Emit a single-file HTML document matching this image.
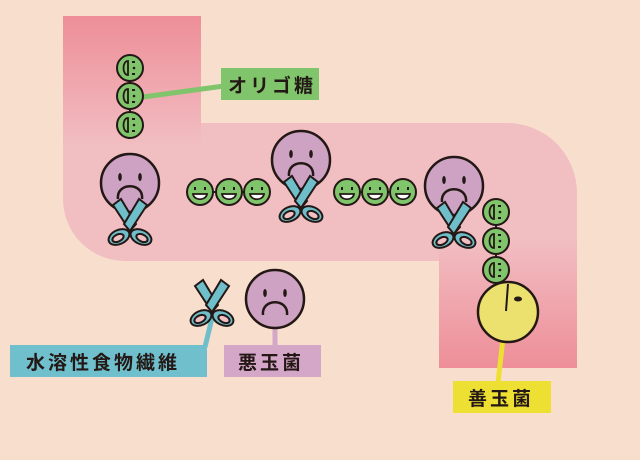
<!DOCTYPE html>
<html><head><meta charset="utf-8"><style>
html,body{margin:0;padding:0;background:#f8dfcd;}
svg{display:block}
text{font-family:"Liberation Sans","Noto Sans CJK JP",sans-serif;font-weight:bold;font-size:19px;fill:#231815;letter-spacing:3px}
</style></head><body>
<svg width="640" height="460" viewBox="0 0 640 460" xmlns="http://www.w3.org/2000/svg">
<defs>
<linearGradient id="gv" x1="0" y1="0" x2="0" y2="1">
<stop offset="0" stop-color="#ee8e98"/><stop offset="1" stop-color="#f1bec2"/>
</linearGradient>
<linearGradient id="gr" x1="0" y1="0" x2="0" y2="1">
<stop offset="0" stop-color="#f1bec2"/><stop offset="1" stop-color="#ee8e98"/>
</linearGradient>
<g id="bad">
<circle r="29" fill="#cea2c3" stroke="#231815" stroke-width="2.5"/>
<ellipse cx="-10" cy="-6" rx="1.8" ry="4" fill="#231815"/>
<ellipse cx="10" cy="-6" rx="1.8" ry="4" fill="#231815"/>
<path d="M-12 16 C-14 -1 14 -1 12 16" fill="none" stroke="#231815" stroke-width="2.5"/>
</g>
<g id="sc" stroke="#231815" stroke-width="2" fill="#6fbfcb">
<path d="M-17 -20 L-9 -26 L6 -1 L0 6 Z"/>
<path d="M17 -20 L9 -26 L-6 -1 L0 6 Z"/>
<ellipse cx="-11" cy="12" rx="11" ry="7" transform="rotate(-25 -11 12)"/>
<ellipse cx="11" cy="12" rx="11" ry="7" transform="rotate(25 11 12)"/>
<ellipse cx="-12" cy="13" rx="6" ry="3.5" fill="#f0c0c4" transform="rotate(-25 -12 13)"/>
<ellipse cx="12" cy="13" rx="6" ry="3.5" fill="#f0c0c4" transform="rotate(25 12 13)"/>
</g>
<g id="sm">
<circle r="13" fill="#80c46b" stroke="#231815" stroke-width="2"/>
<path d="M-5 -5 v3 M5 -5 v3" stroke="#231815" stroke-width="2"/>
<path d="M-7 2 H7 C6 9 -6 9 -7 2 Z" fill="#fff" stroke="#231815" stroke-width="1.8"/>
</g>
<g id="sd">
<circle r="13" fill="#80c46b" stroke="#231815" stroke-width="2"/>
<path d="M-2 -7 C-8 -7 -8 7 -2 7 Z" fill="none" stroke="#231815" stroke-width="1.8"/>
<path d="M2 -6 h3 M2 6 h3" stroke="#231815" stroke-width="2"/>
<circle cx="4" cy="0" r="1.3" fill="#231815"/>
</g>
</defs>
<path d="M63 16 H201 V123 H507 A70 70 0 0 1 577 193 V368 H439 V261 H125 A62 62 0 0 1 63 199 Z" fill="#f1bec2"/>
<rect x="63" y="16" width="138" height="130" fill="url(#gv)"/>
<rect x="439" y="240" width="138" height="128" fill="url(#gr)"/>
<!-- lines -->
<line x1="143" y1="97" x2="224" y2="86" stroke="#80c46b" stroke-width="5"/>
<line x1="212" y1="318" x2="205" y2="347" stroke="#6fbfcb" stroke-width="5"/>
<line x1="275" y1="326" x2="275" y2="347" stroke="#d4a6c8" stroke-width="5"/>
<line x1="503" y1="338" x2="498" y2="383" stroke="#eee033" stroke-width="5"/>
<!-- chains -->
<line x1="130" y1="68" x2="130" y2="125" stroke="#231815" stroke-width="2"/>
<use href="#sd" x="130" y="68"/><use href="#sd" x="130" y="96"/><use href="#sd" x="130" y="125"/>
<line x1="200" y1="192" x2="257" y2="192" stroke="#231815" stroke-width="2"/>
<use href="#sm" x="200" y="192"/><use href="#sm" x="229" y="192"/><use href="#sm" x="257" y="192"/>
<line x1="347" y1="192" x2="403" y2="192" stroke="#231815" stroke-width="2"/>
<use href="#sm" x="347" y="192"/><use href="#sm" x="375" y="192"/><use href="#sm" x="403" y="192"/>
<line x1="496" y1="212" x2="496" y2="290" stroke="#231815" stroke-width="2"/>
<use href="#sd" x="496" y="212"/><use href="#sd" x="496" y="241"/><use href="#sd" x="496" y="270"/>
<!-- yellow -->
<circle cx="508" cy="312" r="30" fill="#ece06f" stroke="#231815" stroke-width="2.5"/>
<line x1="508" y1="284" x2="506" y2="311" stroke="#231815" stroke-width="2"/>
<ellipse cx="518" cy="299" rx="4" ry="2.5" fill="#231815"/>
<!-- bad bacteria -->
<use href="#bad" x="130" y="183"/><use href="#sc" x="130" y="225"/>
<use href="#bad" x="301" y="160"/><use href="#sc" x="301" y="202"/>
<use href="#bad" x="454" y="186"/><use href="#sc" x="454" y="228"/>
<use href="#bad" x="275" y="299"/>
<use href="#sc" x="212" y="306"/>
<!-- labels -->
<rect x="221" y="68" width="98" height="32" fill="#80c46b"/>
<text x="228" y="92">オリゴ糖</text>
<rect x="10" y="345" width="197" height="32" fill="#6fc0cc"/>
<text x="26" y="369">水溶性食物繊維</text>
<rect x="224" y="345" width="97" height="32" fill="#d4a6c8"/>
<text x="238" y="369">悪玉菌</text>
<rect x="453" y="381" width="98" height="32" fill="#eee033"/>
<text x="468" y="405">善玉菌</text>
</svg>
</body></html>
